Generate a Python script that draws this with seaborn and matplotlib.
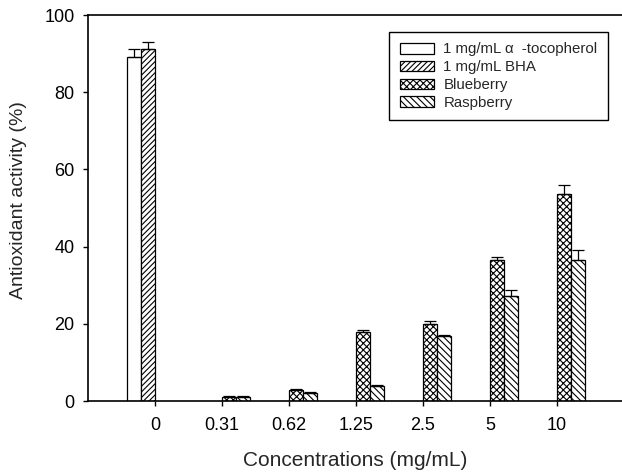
import numpy as np
import pandas as pd
import matplotlib
matplotlib.use("Agg")
import matplotlib.pyplot as plt
import seaborn as sns
from matplotlib.patches import Patch

concentrations = ["0", "0.31", "0.62", "1.25", "2.5", "5", "10"]
series_names = ["1 mg/mL \u03b1  -tocopherol", "1 mg/mL BHA", "Blueberry", "Raspberry"]
tocopherol = [89.2, np.nan, np.nan, np.nan, np.nan, np.nan, np.nan]
tocopherol_err = [2.0, 0, 0, 0, 0, 0, 0]
bha = [91.3, np.nan, np.nan, np.nan, np.nan, np.nan, np.nan]
bha_err = [1.8, 0, 0, 0, 0, 0, 0]
blueberry = [np.nan, 1.1, 2.8, 17.9, 20.0, 36.5, 53.7]
blueberry_err = [0, 0.2, 0.2, 0.6, 0.7, 0.8, 2.2]
raspberry = [np.nan, 1.1, 2.2, 3.9, 16.8, 27.1, 36.5]
raspberry_err = [0, 0.2, 0.2, 0.2, 0.4, 1.7, 2.7]

values = [tocopherol, bha, blueberry, raspberry]
errors = [tocopherol_err, bha_err, blueberry_err, raspberry_err]
hatches = ["", "//////", "xxxxx", "\\\\\\\\\\"]

rows = []
for name, vals in zip(series_names, values):
    for c, v in zip(concentrations, vals):
        rows.append({"conc": c, "series": name, "value": v})
df = pd.DataFrame(rows)

sns.set_style("ticks")
plt.rcParams["font.family"] = ["Liberation Sans", "DejaVu Sans"]
plt.rcParams["hatch.linewidth"] = 0.8

fig = plt.figure(figsize=(6.22, 4.75), dpi=100)
ax = fig.add_axes([88/622, 1-401/475, 1-88/622, (401-15)/475])

sns.barplot(data=df, x="conc", y="value", hue="series", order=concentrations,
            hue_order=series_names, palette=["white"]*4, edgecolor="black",
            linewidth=0.9, width=0.85, dodge=True, errorbar=None, ax=ax, legend=False)

for cont, h, errs, vals in zip(ax.containers, hatches, errors, values):
    present = [(v, e) for v, e in zip(vals, errs) if not np.isnan(v)]
    xs, ys, es = [], [], []
    for bar, (v, e) in zip(cont, present):
        bar.set_hatch(h)
        if e > 0:
            xs.append(bar.get_x() + bar.get_width()/2)
            ys.append(v)
            es.append(e)
    if xs:
        ax.errorbar(xs, ys, yerr=[np.zeros(len(es)), es], fmt="none",
                    ecolor="black", elinewidth=0.9, capsize=4, capthick=0.9)

ax.set_xlim(-1, 6.97)
ax.set_ylim(0, 100)
ax.set_yticks([0, 20, 40, 60, 80, 100])
ax.spines["right"].set_visible(False)
for s in ["top", "left", "bottom"]:
    ax.spines[s].set_linewidth(1.2)
    ax.spines[s].set_color("black")
ax.tick_params(axis="both", direction="out", length=3.6, width=1, labelsize=13, colors="black")
ax.tick_params(axis="x", pad=8)
ax.tick_params(axis="y", pad=6)
ax.set_xlabel("Concentrations (mg/mL)", fontsize=15)
ax.set_ylabel("Antioxidant activity (%)", fontsize=14)
ax.xaxis.set_label_coords(0.5, -(461 - 401) / 386, transform=ax.transAxes)
ax.xaxis.label.set_va("center")
ax.yaxis.set_label_coords(-(88 - 19) / 534, (401 - 200) / 386, transform=ax.transAxes)
ax.yaxis.label.set_va("center")

handles = [Patch(facecolor="white", edgecolor="black", hatch=h, linewidth=0.9) for h in hatches]
leg = ax.legend(handles, series_names, loc="upper right",
                bbox_to_anchor=((608-88)/534, 1 - 17/386),
                frameon=True, fancybox=False, edgecolor="black", fontsize=10.8,
                handlelength=2.3, handleheight=0.7, borderpad=0.7, labelspacing=0.25,
                handletextpad=0.6, borderaxespad=0)
leg.get_frame().set_linewidth(1.0)
leg.get_frame().set_facecolor("white")
leg.get_frame().set_alpha(1)

fig.savefig("out.png", dpi=100)
